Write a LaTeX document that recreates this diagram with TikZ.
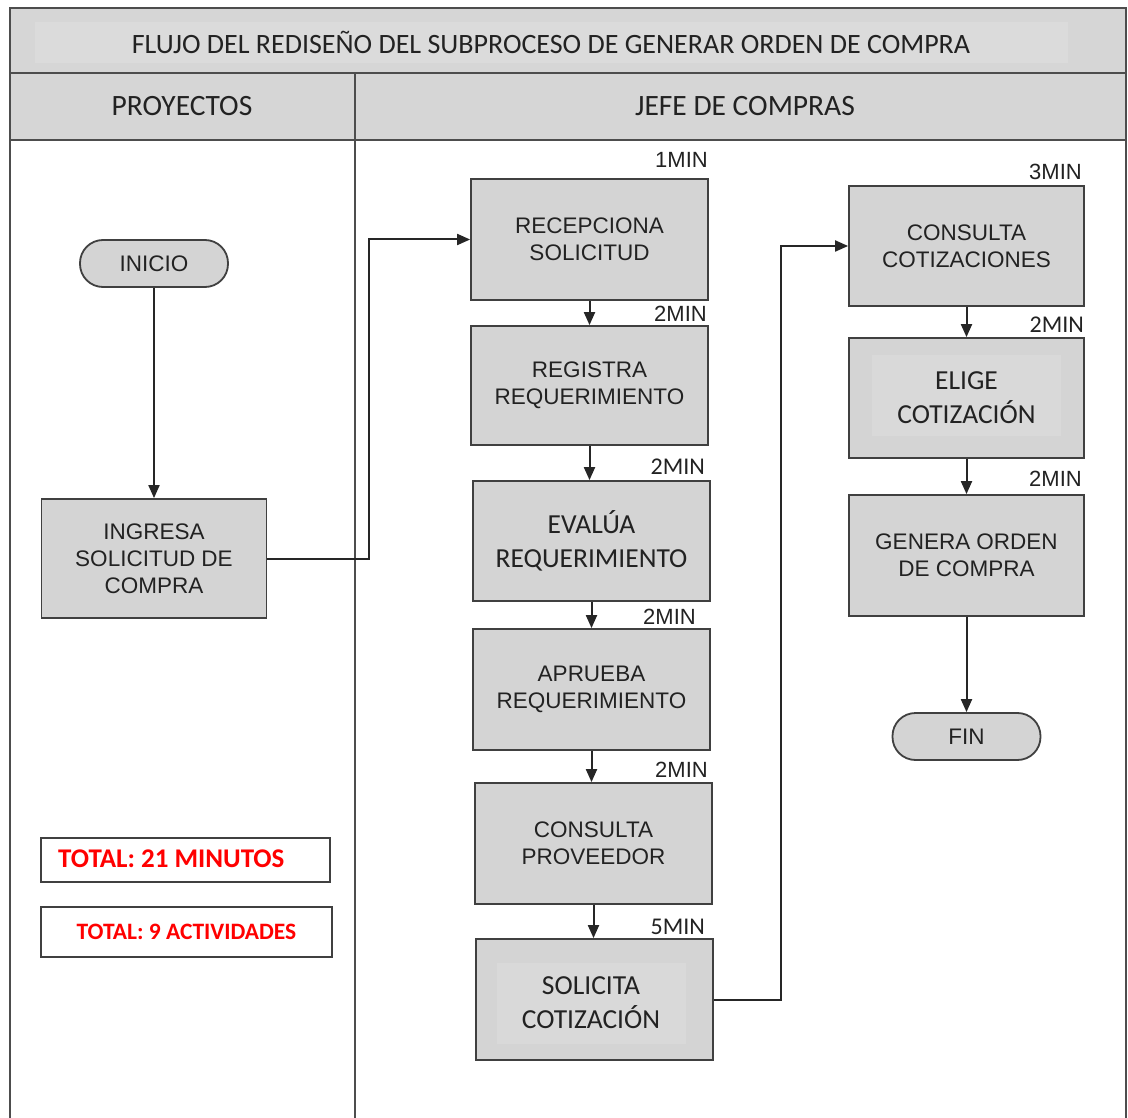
\documentclass[tikz,border=0pt]{standalone}
\usepackage{fontspec}
\setmainfont{Liberation Sans}
\newfontfamily\carlito{Carlito}
\usetikzlibrary{arrows.meta}
\definecolor{boxfill}{HTML}{D4D4D4}
\definecolor{innerfill}{HTML}{D9D9D9}
\definecolor{boxline}{HTML}{404040}
\definecolor{hdrfill}{HTML}{D6D6D6}
\definecolor{titleinner}{HTML}{DBDBDB}
\definecolor{gridline}{HTML}{4D4D4D}
\definecolor{ink}{HTML}{222222}
\definecolor{alertred}{HTML}{FF0000}

\begin{document}
\begin{tikzpicture}[x=1pt,y=-1pt,
  proc/.style={draw=boxline, line width=1.8pt, fill=boxfill,
    minimum width=237pt, minimum height=121pt, align=center, text=ink, inner sep=0pt},
  arialtxt/.style={font=\fontsize{22.5}{27}\selectfont},
  carltxt/.style={font=\carlito\fontsize{27.5}{34}\selectfont},
  term/.style={draw=boxline, line width=1.8pt, fill=boxfill, rounded corners=23pt,
    minimum width=148pt, minimum height=47pt, inner sep=0pt, text=ink,
    font=\fontsize{22.5}{27}\selectfont},
  mins/.style={anchor=base east, text=ink, inner sep=0pt, font=\fontsize{22}{26}\selectfont},
  minsc/.style={anchor=base east, text=ink, inner sep=0pt, font=\carlito\fontsize{24}{28}\selectfont},
  arr/.style={draw=black!85, line width=2pt, -{Triangle[length=13pt,width=11pt]}},
  grid/.style={draw=gridline, line width=2pt},
  totalbox/.style={draw=boxline, line width=1.8pt, fill=white, minimum height=45pt,
    inner sep=0pt, text=alertred, font=\carlito\bfseries\fontsize{23.5}{28}\selectfont},
  hdr/.style={text=ink, inner sep=0pt, font=\carlito\fontsize{29.5}{34}\selectfont}
]
\path[use as bounding box, fill=white] (0,0) rectangle (1128,1118);

% swimlane table: title row, header row and lane divider
\fill[hdrfill] (10,8) rectangle (1126,140);
\fill[titleinner] (35,22) rectangle (1068,63);
\draw[grid] (10,1118) -- (10,8) -- (1126,8) -- (1126,1118);
\draw[grid] (10,73) -- (1126,73);
\draw[grid] (10,140) -- (1126,140);
\draw[grid] (355,73) -- (355,1118);

\node[hdr, font=\carlito\fontsize{28}{33}\selectfont] (title) at (551,42)
  {FLUJO DEL REDISEÑO DEL SUBPROCESO DE GENERAR ORDEN DE COMPRA};
\node[hdr] (lane1) at (182,106) {PROYECTOS};
\node[hdr] (lane2) at (745,106) {JEFE DE COMPRAS};

% PROYECTOS lane
\node[term] (ini) at (154,263.5) {INICIO};
\node[proc, arialtxt, minimum width=225pt, minimum height=119pt] (ing) at (154,558.5)
  {INGRESA\\SOLICITUD DE\\COMPRA};

\node[totalbox, minimum width=289pt, minimum height=44pt] (tmin) at (185.5,860) {};
\node[anchor=west, text=alertred, inner sep=0pt,
  font=\carlito\bfseries\fontsize{27}{32}\selectfont] (tmintxt) at (58,859) {TOTAL: 21 MINUTOS};
\node[totalbox, minimum width=291pt, minimum height=50pt] (tact) at (186.5,932)
  {TOTAL: 9 ACTIVIDADES};

% JEFE DE COMPRAS lane, first column
\node[proc, arialtxt] (rec) at (589.5,239.5) {RECEPCIONA\\SOLICITUD};
\node[proc, arialtxt, minimum height=119pt] (reg) at (589.5,385.5) {REGISTRA\\REQUERIMIENTO};
\node[proc, carltxt, minimum height=120pt] (eva) at (591.5,541) {EVALÚA\\REQUERIMIENTO};
\node[proc, arialtxt] (apr) at (591.5,689.5) {APRUEBA\\REQUERIMIENTO};
\node[proc, arialtxt] (cpr) at (593.5,843.5) {CONSULTA\\PROVEEDOR};
\node[proc] (sol) at (594.5,999.5) {};
\fill[innerfill] (497,963) rectangle (686,1044);
\node[text=ink, align=center, inner sep=0pt, carltxt] (soltxt) at (591,1003) {SOLICITA\\COTIZACIÓN};

% JEFE DE COMPRAS lane, second column
\node[proc, arialtxt, minimum width=235pt, minimum height=120pt] (cco) at (966.5,246) {CONSULTA\\COTIZACIONES};
\node[proc, minimum width=235pt, minimum height=120pt] (eli) at (966.5,398) {};
\fill[innerfill] (872,355) rectangle (1061,436);
\node[text=ink, align=center, inner sep=0pt, carltxt] (elitxt) at (966.5,398) {ELIGE\\COTIZACIÓN};
\node[proc, arialtxt, minimum width=235pt, minimum height=121pt] (gen) at (966.5,555.5) {GENERA ORDEN\\DE COMPRA};
\node[term] (fin) at (966.5,736.5) {FIN};

% activity times
\node[mins] (t1) at (708,168) {1MIN};
\node[mins] (t2) at (707,322) {2MIN};
\node[minsc] (t3) at (705,474) {2MIN};
\node[mins] (t4) at (696,624) {2MIN};
\node[mins] (t5) at (708,777) {2MIN};
\node[minsc] (t6) at (705,934) {5MIN};
\node[mins] (t7) at (1082,180) {3MIN};
\node[minsc] (t8) at (1084,333) {2MIN};
\node[mins] (t9) at (1082,486) {2MIN};

% connectors
\coordinate (j1) at (369,558.5);
\coordinate (j2) at (781,999.5);
\draw[arr] (ini.south) -- (ing.north);
\draw[arr] (ing.east) -- (j1) |- (rec.west);
\draw[arr] (rec.south) -- (rec.south |- reg.north);
\draw[arr] (reg.south) -- (reg.south |- eva.north);
\draw[arr] (eva.south) -- (eva.south |- apr.north);
\draw[arr] (apr.south) -- (apr.south |- cpr.north);
\draw[arr] (cpr.south) -- (cpr.south |- sol.north);
\draw[arr] (sol.east) -- (j2) |- (cco.west);
\draw[arr] (cco.south) -- (eli.north);
\draw[arr] (eli.south) -- (gen.north);
\draw[arr] (gen.south) -- (fin.north);
\end{tikzpicture}
\end{document}
